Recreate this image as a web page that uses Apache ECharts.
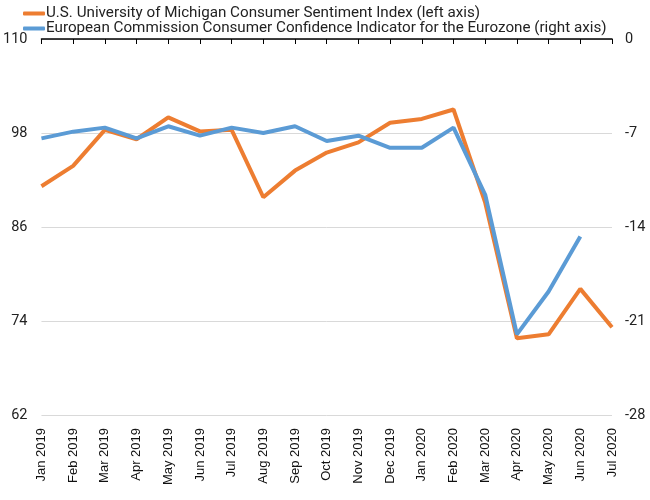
<!DOCTYPE html>
<html><head><meta charset="utf-8">
<script src="https://cdn.jsdelivr.net/npm/echarts@6/dist/echarts.min.js"></script>
<style>html,body{margin:0;padding:0;background:#fff}#c{width:650px;height:500px}</style>
</head><body><div id="c"></div>
<script>
var categories = ['Jan 2019','Feb 2019','Mar 2019','Apr 2019','May 2019','Jun 2019','Jul 2019','Aug 2019','Sep 2019','Oct 2019','Nov 2019','Dec 2019','Jan 2020','Feb 2020','Mar 2020','Apr 2020','May 2020','Jun 2020','Jul 2020'];
var michigan = [91.2, 93.8, 98.4, 97.2, 100.0, 98.2, 98.4, 89.8, 93.2, 95.5, 96.8, 99.3, 99.8, 101.0, 89.1, 71.8, 72.3, 78.1, 73.2];
var eurozone = [-7.4, -6.9, -6.6, -7.4, -6.5, -7.2, -6.6, -7.0, -6.5, -7.6, -7.2, -8.1, -8.1, -6.6, -11.6, -22.0, -18.8, -14.7, null];
var leftName = 'U.S. University of Michigan Consumer Sentiment Index (left axis)';
var rightName = 'European Commission Consumer Confidence Indicator for the Eurozone (right axis)';

var chart = echarts.init(document.getElementById('c'));
chart.setOption({
  animation: false,
  backgroundColor: '#fff',
  legend: {
    orient: 'vertical', left: 18, top: 1, itemGap: 0,
    itemWidth: 22, itemHeight: 4, icon: 'roundRect',
    textStyle: {fontFamily: 'Roboto', fontSize: 15.2, color: '#222', padding: [0,0,0,-4]},
    data: [leftName, rightName]
  },
  grid: {left: 41, right: 38, top: 39, bottom: 85, containLabel: false},
  xAxis: {
    type: 'category', boundaryGap: false, data: categories,
    axisLine: {lineStyle: {color: '#000', width: 1.5}},
    axisTick: {show: true, alignWithLabel: true, length: 5, lineStyle: {color: '#000'}},
    axisLabel: {rotate: 90, interval: 0, fontFamily: 'Liberation Sans, Arial, sans-serif', fontSize: 13, color: '#111', margin: 13}
  },
  yAxis: [
    {type: 'value', min: 62, max: 110, interval: 12,
     axisLine: {show: false}, axisTick: {show: false},
     splitLine: {lineStyle: {color: '#d9d9d9', width: 1}},
     axisLabel: {fontFamily: 'Roboto', fontSize: 14.5, color: '#222', margin: 14}},
    {type: 'value', min: -28, max: 0, interval: 7,
     axisLine: {show: false}, axisTick: {show: false}, splitLine: {show: false},
     axisLabel: {fontFamily: 'Roboto', fontSize: 14.5, color: '#222', margin: 13}}
  ],
  series: [
    {name: leftName, type: 'line', yAxisIndex: 0, data: michigan, symbol: 'none',
     lineStyle: {color: '#ED7D31', width: 4}, itemStyle: {color: '#ED7D31'}},
    {name: rightName, type: 'line', yAxisIndex: 1, data: eurozone, symbol: 'none',
     lineStyle: {color: '#5B9BD5', width: 4}, itemStyle: {color: '#5B9BD5'}}
  ]
});
</script></body></html>
